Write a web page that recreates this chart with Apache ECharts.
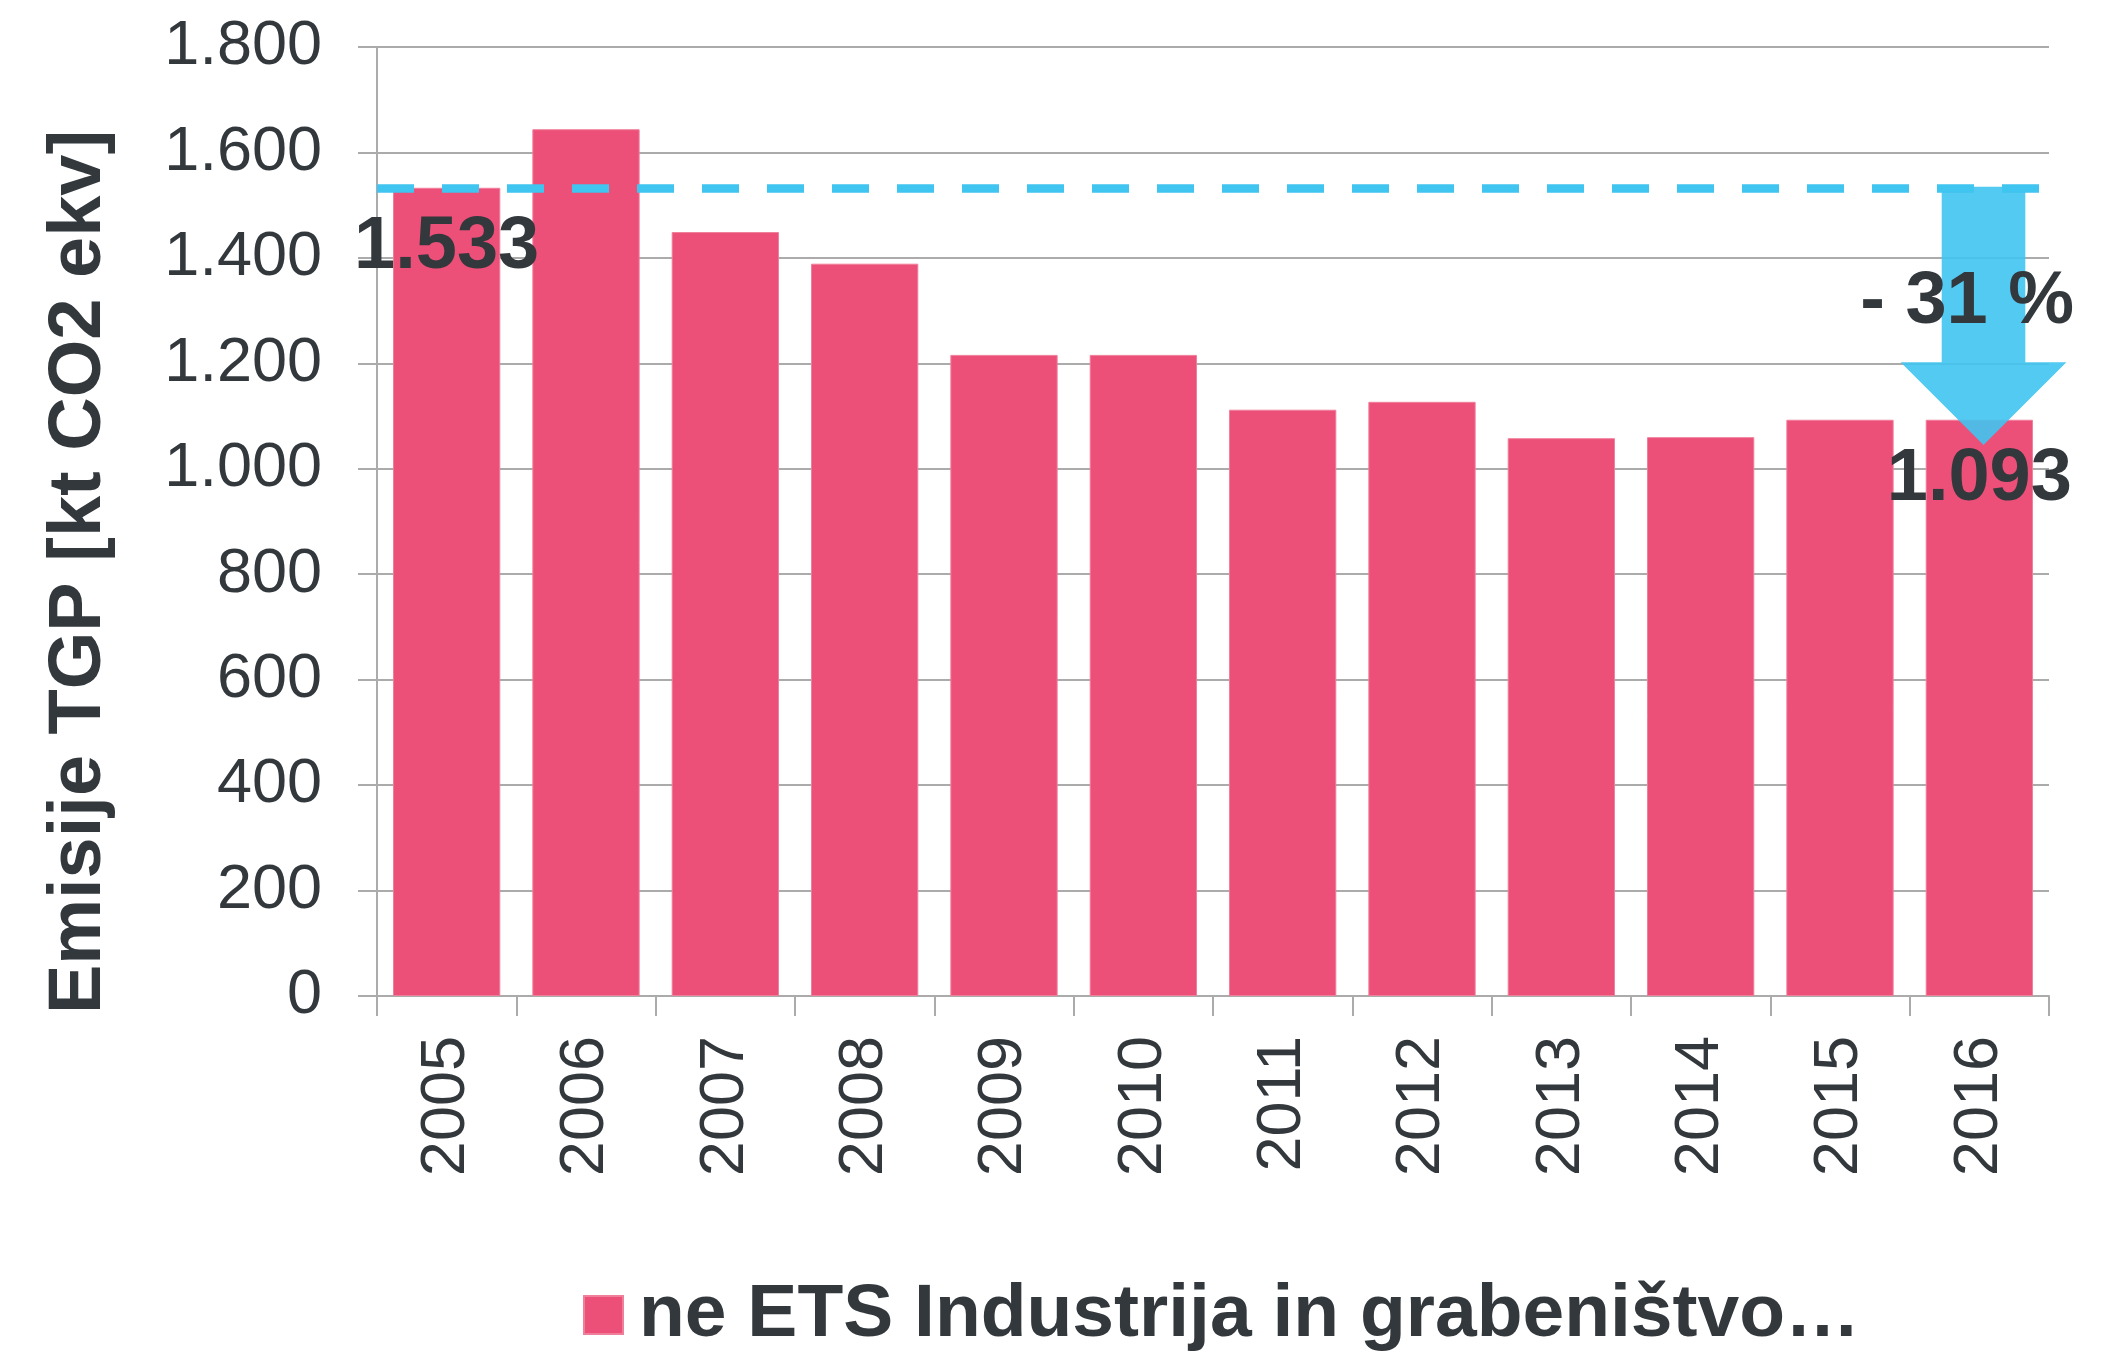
<!DOCTYPE html>
<html>
<head>
<meta charset="utf-8">
<script src="https://cdn.jsdelivr.net/npm/echarts@6/dist/echarts.min.js"></script>
<style>
html,body{margin:0;padding:0;background:#fff;}
#chart{width:2126px;height:1352px;}
</style>
</head>
<body>
<div id="chart"></div>
<script>
// ---- data ----
const years = ['2005','2006','2007','2008','2009','2010','2011','2012','2013','2014','2015','2016'];
const emissions = [1533, 1644, 1449, 1389, 1216, 1216, 1112, 1127, 1058, 1060, 1093, 1093];
const labelledYears = ['2005', '2016'];
const baselineValue = 1533;
// arrow: [category index, start value, head start value, tip value]
const arrowValues = [[11, 1535, 1202, 1045]];
const changeLabel = '- 31 %';
const seriesName = 'ne ETS Industrija in grabeništvo…';
const yAxisTitle = 'Emisije TGP [kt CO2 ekv]';
const yMin = 0, yMax = 1800, yStep = 200;

// ---- style ----
const TEXT = '#33383d';
const BAR = '#EC4F77';
const BLUE = '#40C4F0';
const GRIDC = '#ababab';
const FONT = '"Liberation Sans", Arial, sans-serif';

function fmt(v) {
  return String(v).replace(/\B(?=(\d{3})+(?!\d))/g, '.');
}

const chart = echarts.init(document.getElementById('chart'));

const barData = emissions.map((v, i) => {
  const item = { value: v };
  if (labelledYears.indexOf(years[i]) >= 0) {
    item.label = {
      show: true,
      position: 'insideTop',
      distance: 23,
      formatter: p => fmt(p.value),
      fontFamily: FONT,
      fontWeight: 'bold',
      fontSize: 74,
      color: TEXT
    };
  }
  return item;
});

const option = {
  backgroundColor: '#ffffff',
  animation: false,
  grid: { left: 377, right: 77, top: 47, bottom: 356, containLabel: false },
  legend: {
    data: [seriesName],
    left: 583,
    top: 1275,
    padding: 0,
    icon: 'rect',
    itemWidth: 39,
    itemHeight: 38,
    textStyle: {
      fontFamily: FONT,
      fontWeight: 'bold',
      fontSize: 75,
      lineHeight: 80,
      color: TEXT,
      padding: [0, 0, 0, 11]
    }
  },
  graphic: [{
    type: 'text',
    x: 80,
    y: 572,
    rotation: Math.PI / 2,
    style: {
      text: yAxisTitle,
      font: 'bold 74px ' + FONT,
      fill: TEXT,
      textAlign: 'center',
      textVerticalAlign: 'middle'
    },
    z: 10
  }],
  xAxis: {
    type: 'category',
    data: years,
    boundaryGap: true,
    axisLine: { show: true, lineStyle: { color: GRIDC, width: 2 } },
    axisTick: { show: true, length: 20, lineStyle: { color: GRIDC, width: 2 } },
    axisLabel: {
      rotate: 90,
      margin: 40,
      fontFamily: FONT,
      fontSize: 63,
      color: TEXT
    }
  },
  yAxis: {
    type: 'value',
    min: yMin,
    max: yMax,
    interval: yStep,
    axisLine: { show: true, lineStyle: { color: GRIDC, width: 2 } },
    axisTick: { show: true, length: 19, lineStyle: { color: GRIDC, width: 2 } },
    splitLine: { show: true, lineStyle: { color: GRIDC, width: 2 } },
    axisLabel: {
      margin: 55,
      fontFamily: FONT,
      fontSize: 63,
      color: TEXT,
      formatter: v => fmt(v)
    }
  },
  series: [
    {
      name: seriesName,
      type: 'bar',
      data: barData,
      barCategoryGap: '23%',
      itemStyle: { color: BAR, borderColor: '#f07f9b', borderWidth: 1 },
      z: 2,
      markLine: {
        silent: true,
        symbol: ['none', 'none'],
        label: { show: false },
        lineStyle: { color: BLUE, width: 8.5, type: [37, 28], opacity: 1 },
        data: [{ yAxis: baselineValue }],
        z: 6
      }
    },
    {
      name: 'arrow',
      type: 'custom',
      data: arrowValues,
      encode: { x: 0, y: 1 },
      z: 5,
      silent: true,
      renderItem: function (params, api) {
        const ci = api.value(0);
        const p0 = api.coord([ci, api.value(1)]);
        const p1 = api.coord([ci, api.value(2)]);
        const p2 = api.coord([ci, api.value(3)]);
        const band = api.size([1, 0])[0];
        const cx = p0[0] + band * 0.03;
        const sw = band * 0.30;
        const hw = band * 0.595;
        return {
          type: 'group',
          children: [
            {
              type: 'polygon',
              shape: {
                points: [
                  [cx - sw, p0[1]], [cx + sw, p0[1]], [cx + sw, p1[1]],
                  [cx + hw, p1[1]], [cx, p2[1]], [cx - hw, p1[1]],
                  [cx - sw, p1[1]]
                ]
              },
              style: { fill: 'rgba(64,196,240,0.9)' }
            },
            {
              type: 'text',
              style: {
                text: changeLabel,
                x: cx + band * 0.65,
                y: p1[1] - 60,
                textAlign: 'right',
                textVerticalAlign: 'middle',
                font: 'bold 74px ' + FONT,
                fill: TEXT
              },
              z2: 10
            }
          ]
        };
      }
    }
  ]
};

chart.setOption(option);
</script>
</body>
</html>
